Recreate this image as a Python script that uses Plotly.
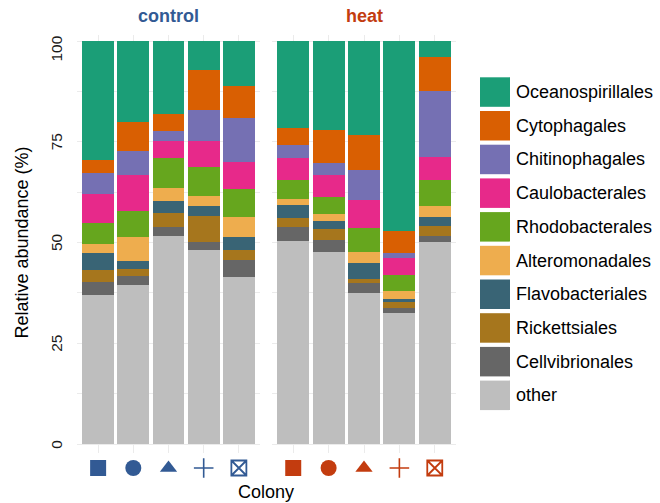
import plotly.graph_objects as go

# ---------------- data ----------------
treatments = ["control", "heat"]
colonies = ["1", "2", "3", "4", "5"]
colony_symbols = ["square", "circle", "triangle-up", "cross-thin-open", "square-x-open"]
treatment_colors = ["#325A94", "#C33C0F"]

orders = ["Oceanospirillales", "Cytophagales", "Chitinophagales", "Caulobacterales",
          "Rhodobacterales", "Alteromonadales", "Flavobacteriales", "Rickettsiales",
          "Cellvibrionales", "other"]
order_colors = ["#1B9E77", "#D95F02", "#7570B3", "#E7298A", "#66A61E",
                "#EEAD4E", "#396475", "#A6761D", "#666666", "#BEBEBE"]

# values per order: control colonies 1-5, then heat colonies 1-5 (%)
oceanospirillales = [29.5, 20.0, 18.0, 7.3, 11.1, 21.5, 22.0, 23.4, 47.1, 4.0]
cytophagales      = [3.3, 7.3, 4.3, 9.9, 7.9, 4.3, 8.3, 8.5, 5.6, 8.5]
chitinophagales   = [5.1, 6.0, 2.5, 7.6, 11.0, 3.2, 3.0, 7.5, 1.1, 16.3]
caulobacterales   = [7.3, 8.9, 4.2, 6.5, 6.6, 5.5, 5.4, 6.9, 4.2, 5.7]
rhodobacterales   = [5.2, 6.4, 7.4, 7.1, 7.1, 4.7, 4.2, 6.1, 4.1, 6.4]
alteromonadales   = [2.2, 6.0, 3.3, 2.5, 4.9, 1.5, 1.8, 2.7, 1.9, 2.7]
flavobacteriales  = [4.2, 2.0, 3.0, 2.4, 3.3, 3.2, 2.0, 4.0, 0.8, 2.3]
rickettsiales     = [3.0, 1.7, 3.5, 6.5, 2.4, 2.3, 2.7, 0.9, 1.5, 2.5]
cellvibrionales   = [3.1, 2.2, 2.1, 2.1, 4.3, 3.5, 3.0, 2.4, 1.1, 1.5]
other             = [37.1, 39.5, 51.7, 48.1, 41.4, 50.3, 47.6, 37.6, 32.6, 50.1]

order_values = [oceanospirillales, cytophagales, chitinophagales, caulobacterales,
                rhodobacterales, alteromonadales, flavobacteriales, rickettsiales,
                cellvibrionales, other]

y_ticks = [0, 25, 50, 75, 100]

# ---------------- layout geometry (pixels) ----------------
W, H = 660, 503
L, R, T, B = 77, 456, 35, 480          # full plotting region (bars + symbol row)
BAR_BOTTOM = 453                        # bottom of bar panels
FONT = "Liberation Sans, Arial, Helvetica, sans-serif"

def px2x(px):
    return (px - L) / (R - L)

def px2y(py):
    return (B - py) / (B - T)

fig = go.Figure()
xrefs = ["x", "x2"]
sym_xrefs = ["x3", "x4"]
n = len(colonies)

# stacked bars: bottom first
for name, col, vals in reversed(list(zip(orders, order_colors, order_values))):
    for ti, tr in enumerate(treatments):
        fig.add_trace(go.Bar(
            x=colonies, y=vals[ti * n:(ti + 1) * n],
            xaxis=xrefs[ti], yaxis="y",
            marker=dict(color=col, line=dict(width=0)),
            width=0.9, name=name, showlegend=False,
            hovertemplate=name + ": %{y}%<extra>" + tr + "</extra>",
        ))

# colony symbols as x tick labels (own small axes below the panels)
for ti, tr in enumerate(treatments):
    fig.add_trace(go.Scatter(
        x=colonies, y=[0.5] * n, xaxis=sym_xrefs[ti], yaxis="y2",
        mode="markers", cliponaxis=False, showlegend=False, hoverinfo="skip",
        marker=dict(symbol=colony_symbols, size=[16, 16, 15, 14, 15], opacity=1,
                    color=treatment_colors[ti],
                    line=dict(color=treatment_colors[ti], width=[0, 0, 0, 1.6, 1.8])),
    ))

grid = "#EBEBEB"
dom1 = [0, px2x(260)]
dom2 = [px2x(272), 1]
xa = dict(type="category", range=[-0.6, 4.6], showgrid=True, gridcolor=grid,
          gridwidth=1.1, showticklabels=False, ticks="", zeroline=False,
          showline=False, fixedrange=True)
xs = dict(type="category", range=[-0.6, 4.6], visible=False, showgrid=False,
          zeroline=False, fixedrange=True)
fig.update_layout(
    width=W, height=H,
    margin=dict(l=L, r=W - R, t=T, b=H - B, pad=0),
    paper_bgcolor="white", plot_bgcolor="white",
    barmode="stack", bargap=0.1,
    font=dict(family=FONT, size=15.5, color="#1a1a1a"),
    xaxis=dict(domain=dom1, anchor="y", **xa),
    xaxis2=dict(domain=dom2, anchor="y", **xa),
    xaxis3=dict(domain=dom1, anchor="y2", **xs),
    xaxis4=dict(domain=dom2, anchor="y2", **xs),
    yaxis=dict(domain=[px2y(BAR_BOTTOM), 1], anchor="x",
               range=[-2.2, 101.5], tickvals=y_ticks, showticklabels=False,
               showgrid=True, gridcolor=grid, gridwidth=1.1,
               minor=dict(dtick=12.5, tick0=0, showgrid=True, gridcolor=grid, gridwidth=0.6),
               zeroline=False, showline=False, ticks="", fixedrange=True),
    yaxis2=dict(domain=[0, px2y(456)], anchor="x3", range=[0, 1], visible=False,
                showgrid=False, zeroline=False, fixedrange=True),
    showlegend=False,
)

annotations = []
# y tick labels (rotated); the top one sits slightly lower, as in the original
for v in y_ticks:
    annotations.append(dict(text=str(v), x=px2x(56.5), y=v, xref="paper", yref="y",
                            xanchor="center", yanchor="middle", textangle=-90,
                            yshift=-8 if v == max(y_ticks) else 0, showarrow=False,
                            font=dict(size=15.5, color="#1a1a1a", family=FONT)))

# facet strip titles
for ti, tr in enumerate(treatments):
    cx = (L + 260) / 2 if ti == 0 else (272 + R) / 2
    annotations.append(dict(
        text="<b>" + tr + "</b>", x=px2x(cx), y=px2y(16), xref="paper", yref="paper",
        xanchor="center", yanchor="middle", showarrow=False,
        font=dict(size=18, color=treatment_colors[ti], family=FONT)))

# axis titles
annotations.append(dict(text="Colony", x=px2x(266), y=px2y(492), xref="paper", yref="paper",
                        xanchor="center", yanchor="middle", showarrow=False,
                        font=dict(size=18, color="black", family=FONT)))
annotations.append(dict(text="Relative abundance (%)", x=px2x(21), y=px2y(242.5),
                        xref="paper", yref="paper", xanchor="center", yanchor="middle",
                        textangle=-90, showarrow=False,
                        font=dict(size=18, color="black", family=FONT)))

# manual legend with large keys
shapes = []
key_top0, key_step, key_size = 77.3, 33.7, 29.5
for i, (name, col) in enumerate(zip(orders, order_colors)):
    top = key_top0 + i * key_step
    shapes.append(dict(type="rect", xref="paper", yref="paper",
                       x0=px2x(480), x1=px2x(510), y0=px2y(top + key_size), y1=px2y(top),
                       fillcolor=col, line=dict(width=0)))
    annotations.append(dict(text=name, x=px2x(514), y=px2y(top + key_size / 2),
                            xref="paper", yref="paper", xanchor="left", yanchor="middle",
                            showarrow=False, font=dict(size=18, color="black", family=FONT)))

fig.update_layout(annotations=annotations, shapes=shapes)
fig.write_html("out.html", config={"displayModeBar": False},
               post_script="document.body.style.margin='0px';document.body.style.overflow='hidden';")
